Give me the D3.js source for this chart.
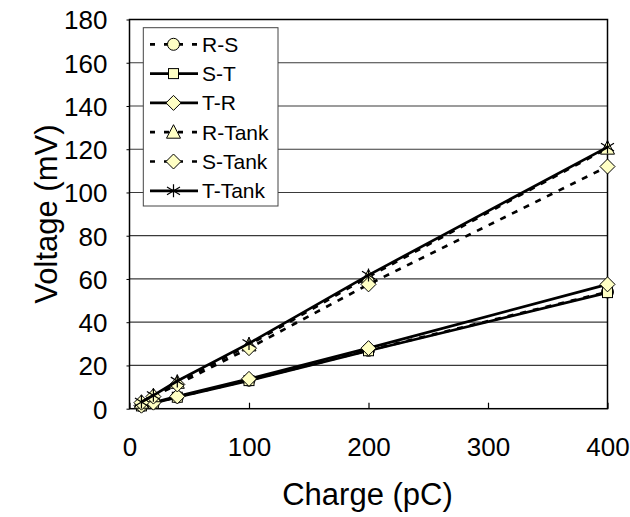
<!DOCTYPE html>
<html><head><meta charset="utf-8">
<script src="https://cdn.jsdelivr.net/npm/d3@7"></script>
<style>body{margin:0;background:#fff}svg{display:block;font-family:"Liberation Sans",Arial,sans-serif}</style>
</head><body><svg id="c" width="630" height="517"></svg>
<script>
const charge = [10, 20, 40, 100, 200, 400];
const seriesNames = ["R-S", "S-T", "T-R", "R-Tank", "S-Tank", "T-Tank"];
const rs = [1.3, 2.7, 5.4, 13.2, 27.0, 54.0];
const st = [1.3, 2.6, 5.3, 13.0, 26.8, 53.7];
const tr = [1.4, 2.8, 5.7, 13.8, 28.0, 57.5];
const rTank = [3.0, 6.0, 12.2, 29.5, 61.0, 120.5];
const sTank = [2.8, 5.6, 11.2, 28.0, 57.5, 112.0];
const tTank = [3.1, 6.2, 12.8, 30.2, 61.8, 121.0];
const xTicks = [0, 100, 200, 300, 400];
const yTicks = [0, 20, 40, 60, 80, 100, 120, 140, 160, 180];

const values = [rs, st, tr, rTank, sTank, tTank];
const markers = ["circle", "square", "diamond", "triangle", "diamond", "star"];
const dashed = [true, false, false, true, true, false];

const svg = d3.select("#c");
const L = 129.5, R = 607.5, T = 19.5, B = 408.7;
const x = d3.scaleLinear().domain([0, 400]).range([L, R]);
const y = d3.scaleLinear().domain([0, 180]).range([B, T]);
const FONT = "Liberation Sans, Arial, sans-serif";

// gridlines
svg.append("g").selectAll("line").data(yTicks.filter(d => d > 0 && d < 180)).join("line")
  .attr("x1", L).attr("x2", R).attr("y1", d => y(d)).attr("y2", d => y(d))
  .attr("stroke", "#3a3a3a").attr("stroke-width", 1.2);

// frame
svg.append("rect").attr("x", L).attr("y", T).attr("width", R - L).attr("height", B - T)
  .attr("fill", "none").attr("stroke", "#000").attr("stroke-width", 1.5);

// bottom inward ticks
const xAxis = d3.axisBottom(x).tickValues(xTicks).tickSize(-6).tickPadding(0).tickFormat(d3.format("d"));
const gx = svg.append("g").attr("transform", `translate(0,${B})`).call(xAxis);
gx.select(".domain").remove();
gx.selectAll(".tick line").attr("stroke", "#000").attr("stroke-width", 1.2);
gx.selectAll("text").attr("font-size", 26).attr("fill", "#000").attr("font-family", FONT)
  .attr("y", 47).attr("dy", null);

const yAxis = d3.axisLeft(y).tickValues(yTicks).tickSize(3).tickPadding(19).tickFormat(d3.format("d"));
const gy = svg.append("g").attr("transform", `translate(${L},0)`).call(yAxis);
gy.select(".domain").remove();
gy.selectAll(".tick line").attr("stroke", "#000");
gy.selectAll("text").attr("font-size", 26).attr("fill", "#000").attr("font-family", FONT)
  .attr("dy", "0.36em");

// axis titles
svg.append("text").attr("x", (L + R) / 2 - 1).attr("y", 505).attr("text-anchor", "middle")
  .attr("font-size", 31).text("Charge (pC)");
svg.append("text").attr("transform", `translate(57,${(T + B) / 2}) rotate(-90)`).attr("text-anchor", "middle")
  .attr("font-size", 31).text("Voltage (mV)");

const FILL = "#ffffc4";
function drawMarker(g, type, cx, cy) {
  if (type === "circle") {
    g.append("circle").attr("cx", cx).attr("cy", cy).attr("r", 6).attr("fill", FILL).attr("stroke", "#000").attr("stroke-width", 1);
  } else if (type === "square") {
    g.append("rect").attr("x", cx - 5).attr("y", cy - 5).attr("width", 10).attr("height", 10).attr("fill", FILL).attr("stroke", "#000").attr("stroke-width", 1);
  } else if (type === "diamond") {
    g.append("path").attr("d", `M${cx},${cy - 7.5}L${cx + 7.5},${cy}L${cx},${cy + 7.5}L${cx - 7.5},${cy}Z`).attr("fill", FILL).attr("stroke", "#000").attr("stroke-width", 1);
  } else if (type === "triangle") {
    g.append("path").attr("d", `M${cx},${cy - 7.5}L${cx + 7},${cy + 6}L${cx - 7},${cy + 6}Z`).attr("fill", FILL).attr("stroke", "#000").attr("stroke-width", 1);
  } else if (type === "star") {
    const r = 6.5;
    g.append("path").attr("d",
      `M${cx},${cy - r}L${cx},${cy + r}M${cx - r},${cy - r * 0.6}L${cx + r},${cy + r * 0.6}M${cx - r},${cy + r * 0.6}L${cx + r},${cy - r * 0.6}`)
      .attr("stroke", "#000").attr("stroke-width", 1.2).attr("fill", "none");
  }
}

const line = d3.line().x(d => x(d[0])).y(d => y(d[1]));
values.forEach((vals, i) => {
  const pts = charge.map((c, j) => [c, vals[j]]);
  const g = svg.append("g");
  g.append("path").attr("d", line(pts)).attr("fill", "none").attr("stroke", "#000")
    .attr("stroke-width", 2.7).attr("stroke-dasharray", dashed[i] ? "6,7" : null);
  pts.forEach(p => drawMarker(g, markers[i], x(p[0]), y(p[1])));
});

// legend
const lg = svg.append("g");
const lx = 143.3, ly = 27.7, lw = 134.7, lh = 178.3;
lg.append("rect").attr("x", lx).attr("y", ly).attr("width", lw).attr("height", lh)
  .attr("fill", "#fff").attr("stroke", "#444").attr("stroke-width", 1);
seriesNames.forEach((name, i) => {
  const cy = 44.3 + i * 29.3;
  lg.append("line").attr("x1", 150).attr("x2", 198).attr("y1", cy).attr("y2", cy)
    .attr("stroke", "#000").attr("stroke-width", 2.7).attr("stroke-dasharray", dashed[i] ? "5,9" : null);
  drawMarker(lg, markers[i], 173.5, cy);
  lg.append("text").attr("x", 202).attr("y", cy + 7.5).attr("font-size", 21).text(name);
});
</script>
</body></html>
